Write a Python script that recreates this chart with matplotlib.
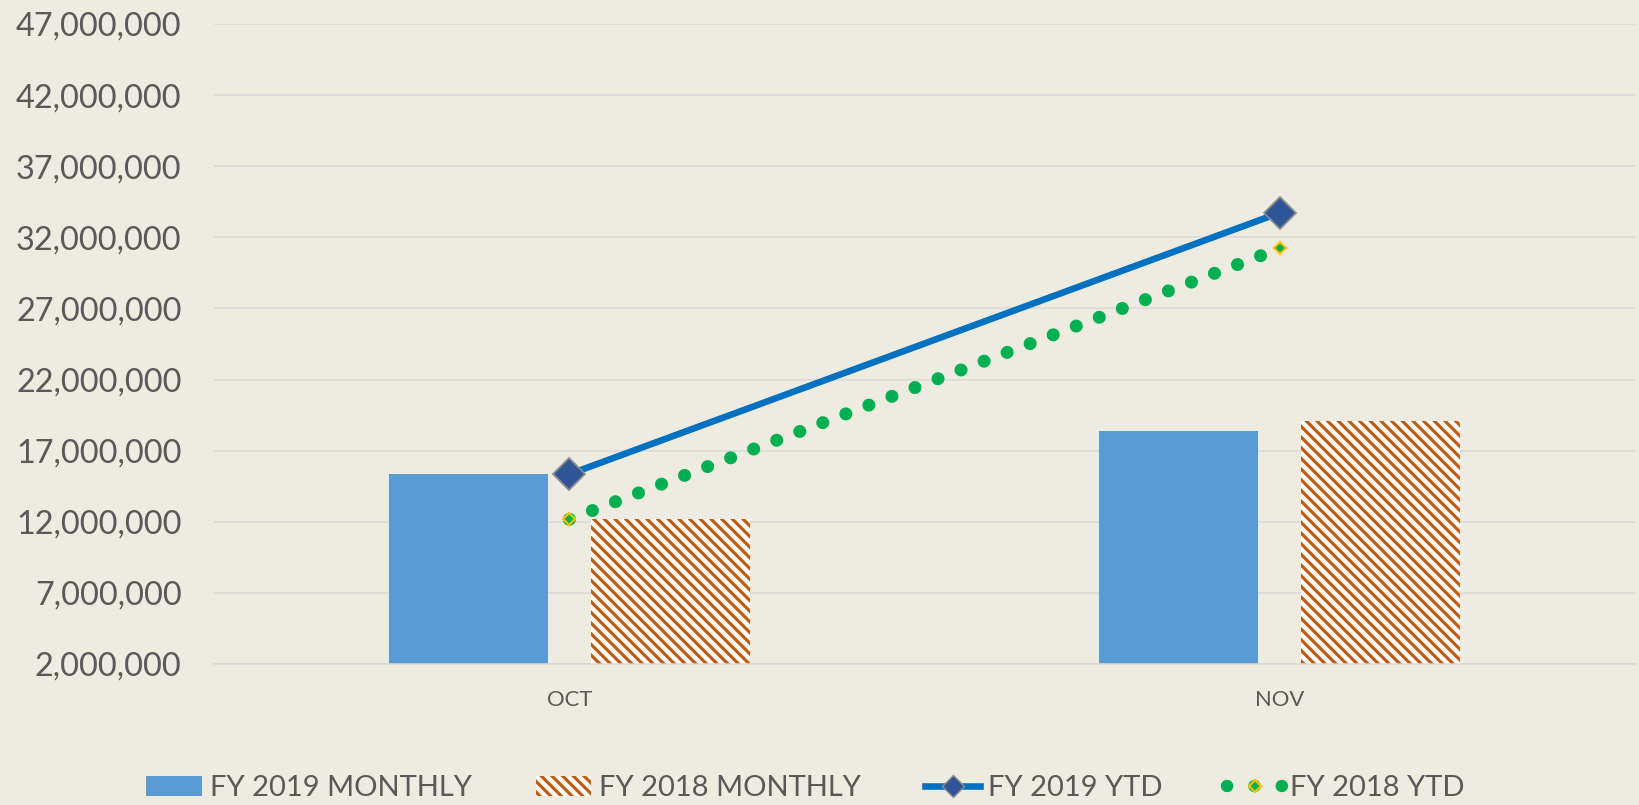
import matplotlib
matplotlib.use("Agg")
import matplotlib.pyplot as plt
from matplotlib.lines import Line2D
from matplotlib.patches import Patch
from matplotlib.ticker import FuncFormatter

# values
months = ["OCT", "NOV"]
fy2019_monthly = [15.34e6, 18.40e6]
fy2018_monthly = [12.17e6, 19.07e6]
fy2019_ytd = [15.34e6, 33.73e6]
fy2018_ytd = [12.17e6, 31.22e6]
y_ticks = [2e6, 7e6, 12e6, 17e6, 22e6, 27e6, 32e6, 37e6, 42e6, 47e6]
series_names = ["FY 2019 MONTHLY", "FY 2018 MONTHLY", "FY 2019 YTD", "FY 2018 YTD"]

BG = "#EEECE1"
BLUE_BAR = "#5B9BD5"
ORANGE = "#C55A11"
BLUE_LINE = "#0070C0"
NAVY = "#2F5597"
GREEN = "#00B050"
GOLD = "#FFC000"
GRID = "#D9D9D9"
TEXT = "#595959"
HATCH = "\\" * 4

DPI = 128
plt.rcParams["font.family"] = ["Lato", "DejaVu Sans"]
plt.rcParams["hatch.linewidth"] = 1.8

fig = plt.figure(figsize=(1639 / DPI, 805 / DPI), dpi=DPI, facecolor=BG)
ax = fig.add_axes([0.1306, 0.1752, 0.9976 - 0.1306, 0.9702 - 0.1752])
ax.set_facecolor(BG)

x = list(range(len(months)))
width = 0.224
offset = 0.142
ax.bar([i - offset for i in x], fy2019_monthly, width, color=BLUE_BAR, zorder=2)
ax.bar([i + offset for i in x], fy2018_monthly, width, color="white", edgecolor=ORANGE,
       linewidth=0, hatch=HATCH, zorder=2)

ax.plot(x, fy2019_ytd, color=BLUE_LINE, linewidth=3.7, marker="D", markersize=12.7,
        markerfacecolor=NAVY, markeredgecolor="#8C8C8C", markeredgewidth=1.0, zorder=4)
ax.plot(x, fy2018_ytd, color=GREEN, linewidth=7.3, dashes=(0.01, 1.89),
        dash_capstyle="round", marker="D", markersize=4.8, markerfacecolor=GREEN,
        markeredgecolor=GOLD, markeredgewidth=1.2, zorder=3)

ax.set_xlim(-0.5, 1.5)
ax.set_ylim(2e6, 47e6)
ax.set_xticks(x)
ax.set_xticklabels(months, fontsize=12.4, color=TEXT)
ax.set_yticks(y_ticks)
ax.yaxis.set_major_formatter(FuncFormatter(lambda v, p: f"{v:,.0f}"))
ax.tick_params(axis="y", length=0, pad=18.3, labelsize=18.3, labelcolor=TEXT)
ax.tick_params(axis="x", length=0, pad=14.7)
ax.grid(axis="y", color=GRID, linewidth=0.85, zorder=0)
ax.set_axisbelow(True)
for side in ["top", "left", "right"]:
    ax.spines[side].set_visible(False)
ax.spines["bottom"].set_color(GRID)
ax.spines["bottom"].set_linewidth(0.85)

handles = [
    Patch(facecolor=BLUE_BAR, edgecolor="none"),
    Patch(facecolor="white", edgecolor=ORANGE, linewidth=0, hatch=HATCH),
    Line2D([], [], color=BLUE_LINE, linewidth=3.7, marker="D", markersize=8.7,
           markerfacecolor=NAVY, markeredgecolor="#8C8C8C", markeredgewidth=0.8),
    Line2D([], [], color=GREEN, linewidth=7.0, dashes=(0.01, 2.19), dash_capstyle="round",
           marker="D", markersize=4.8, markerfacecolor=GREEN, markeredgecolor=GOLD,
           markeredgewidth=1.2),
]
leg = fig.legend(handles, series_names, loc="center", bbox_to_anchor=(0.4915, 0.0205),
                 ncol=4, frameon=False, fontsize=16.4, handlelength=1.9,
                 handletextpad=0.27, columnspacing=2.2, handleheight=0.7)
for t in leg.get_texts():
    t.set_color(TEXT)

fig.savefig("out.png", dpi=DPI, facecolor=BG)
